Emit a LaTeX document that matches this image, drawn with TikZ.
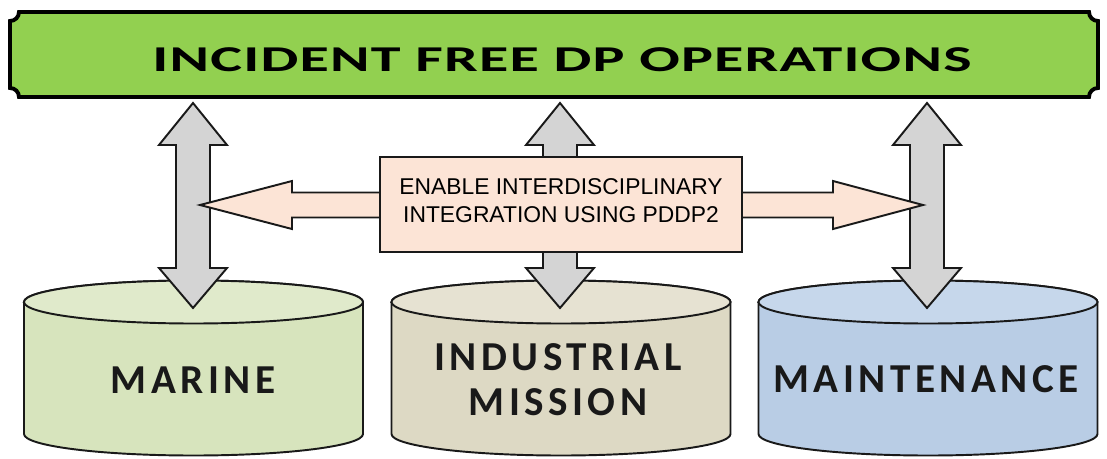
\documentclass[tikz,border=0pt]{standalone}
\usepackage{graphicx}
\usepackage{fontspec}
\setmainfont{Liberation Sans}
\newfontfamily\signfont[LetterSpace=11]{Carlito}
\newfontfamily\titlefont[LetterSpace=2]{Carlito}
\usetikzlibrary{positioning}
\definecolor{signgreen}{HTML}{92D050}
\definecolor{arrowgrey}{HTML}{D4D4D4}
\definecolor{peach}{HTML}{FCE4D6}
\definecolor{marinebody}{HTML}{D7E4BD}
\definecolor{marinetop}{HTML}{E0EACB}
\definecolor{missionbody}{HTML}{DDD9C4}
\definecolor{missiontop}{HTML}{E6E2D2}
\definecolor{maintbody}{HTML}{B9CDE5}
\definecolor{mainttop}{HTML}{C6D7EB}

\begin{document}
\begin{tikzpicture}[x=0.2mm,y=-0.2mm,every node/.style={inner sep=0pt},
  outline/.style={draw=black!90,line width=1.1pt,line join=miter},
  blockarrow/.style={outline,fill=arrowgrey},
  drumtext/.style={font=\signfont\bfseries\fontsize{23.4}{28}\selectfont,align=center,text=black!90}]
\useasboundingbox (0,0) rectangle (1107,458);
% banner
\filldraw[draw=black,line width=2.2pt,fill=signgreen] (10,21) arc[start angle=-90,end angle=0,radius=1.8mm]
  -- (1089,12) arc[start angle=180,end angle=270,radius=1.8mm]
  -- (1098,88) arc[start angle=90,end angle=180,radius=1.8mm]
  -- (19,97) arc[start angle=0,end angle=90,radius=1.8mm] -- cycle;
\node (title) [anchor=base,font=\titlefont\bfseries\fontsize{20.7}{25}\selectfont] at (562,71)
  {\scalebox{1.65}[1]{INCIDENT FREE DP OPERATIONS}};
% drums
\foreach \cx/\bodyc/\topc in {193.5/marinebody/marinetop,561/missionbody/missiontop,928/maintbody/mainttop}{
  \filldraw[outline,fill=\bodyc] (\cx-169.5,302) -- (\cx-169.5,434)
    arc[start angle=180,end angle=360,x radius=33.9mm,y radius=4.3mm]
    -- (\cx+169.5,302) arc[start angle=0,end angle=180,x radius=33.9mm,y radius=4.3mm] -- cycle;
  \filldraw[outline,fill=\topc] (\cx,302) ellipse[x radius=33.9mm,y radius=4.3mm];
}
% up/down arrows
\foreach \ax in {193,560,927}{
  \draw[blockarrow] (\ax,103) -- (\ax+34,145) -- (\ax+17,145) -- (\ax+17,268) -- (\ax+34,268)
    -- (\ax,308) -- (\ax-34,268) -- (\ax-17,268) -- (\ax-17,145) -- (\ax-34,145) -- cycle;
}
% sideways arrow
\draw[outline,fill=peach] (200,205) -- (292,181) -- (292,192.5) -- (833,192.5) -- (833,181) -- (923,205)
  -- (833,229) -- (833,217.5) -- (292,217.5) -- (292,229) -- cycle;
\node (link) [outline,fill=peach,minimum width=72.4mm,minimum height=19mm] at (561,204.5) {};
\node (linktext) [align=center,font=\fontsize{13}{16}\selectfont] at (561,201)
  {ENABLE INTERDISCIPLINARY\\INTEGRATION USING PDDP2};
% labels
\node (marine) [drumtext,anchor=base] at (193,393) {MARINE};
\node (mission) [drumtext] at (558,379.5) {INDUSTRIAL\\[-2pt]MISSION};
\node (maint) [drumtext,anchor=base] at (926,392) {MAINTENANCE};
\end{tikzpicture}
\end{document}
